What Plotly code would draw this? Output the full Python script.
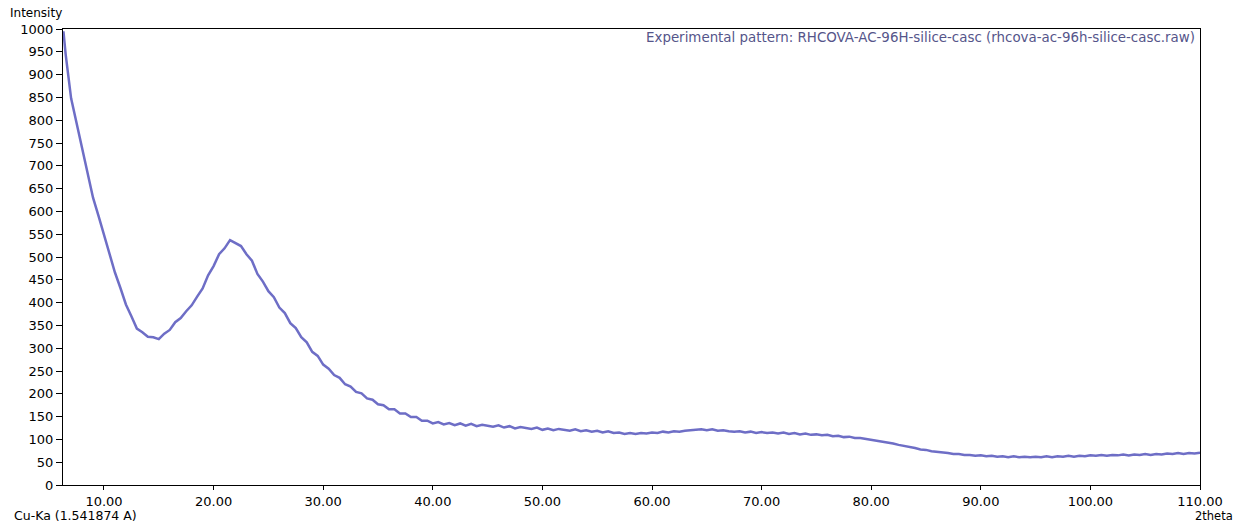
import plotly.graph_objects as go

# 2theta scan positions (degrees)
two_theta = [6.3, 6.5, 7.0, 7.5, 8.0, 8.5, 9.0, 9.5, 10.0, 10.5, 11.0, 11.5, 12.0, 12.5, 13.0, 13.5,
             14.0, 14.5, 15.0, 15.5, 16.0, 16.5, 17.0, 17.5, 18.0, 18.5, 19.0, 19.5, 20.0, 20.5, 21.0, 21.5,
             22.0, 22.5, 23.0, 23.5, 24.0, 24.5, 25.0, 25.5, 26.0, 26.5, 27.0, 27.5, 28.0, 28.5, 29.0, 29.5,
             30.0, 30.5, 31.0, 31.5, 32.0, 32.5, 33.0, 33.5, 34.0, 34.5, 35.0, 35.5, 36.0, 36.5, 37.0, 37.5,
             38.0, 38.5, 39.0, 39.5, 40.0, 40.5, 41.0, 41.5, 42.0, 42.5, 43.0, 43.5, 44.0, 44.5, 45.0, 45.5,
             46.0, 46.5, 47.0, 47.5, 48.0, 48.5, 49.0, 49.5, 50.0, 50.5, 51.0, 51.5, 52.0, 52.5, 53.0, 53.5,
             54.0, 54.5, 55.0, 55.5, 56.0, 56.5, 57.0, 57.5, 58.0, 58.5, 59.0, 59.5, 60.0, 60.5, 61.0, 61.5,
             62.0, 62.5, 63.0, 63.5, 64.0, 64.5, 65.0, 65.5, 66.0, 66.5, 67.0, 67.5, 68.0, 68.5, 69.0, 69.5,
             70.0, 70.5, 71.0, 71.5, 72.0, 72.5, 73.0, 73.5, 74.0, 74.5, 75.0, 75.5, 76.0, 76.5, 77.0, 77.5,
             78.0, 78.5, 79.0, 79.5, 80.0, 80.5, 81.0, 81.5, 82.0, 82.5, 83.0, 83.5, 84.0, 84.5, 85.0, 85.5,
             86.0, 86.5, 87.0, 87.5, 88.0, 88.5, 89.0, 89.5, 90.0, 90.5, 91.0, 91.5, 92.0, 92.5, 93.0, 93.5,
             94.0, 94.5, 95.0, 95.5, 96.0, 96.5, 97.0, 97.5, 98.0, 98.5, 99.0, 99.5, 100.0, 100.5, 101.0, 101.5,
             102.0, 102.5, 103.0, 103.5, 104.0, 104.5, 105.0, 105.5, 106.0, 106.5, 107.0, 107.5, 108.0, 108.5,
             109.0, 109.5, 110.0]

# Intensity (counts)
intensity = [995, 945, 848, 795, 741, 686, 630, 590, 548, 510, 466, 432, 396, 370, 343, 335,
             325, 324, 320, 332, 340, 357, 366, 381, 394, 413, 431, 460, 480, 506, 519, 537,
             531, 524, 506, 492, 463, 446, 425, 412, 389, 377, 355, 344, 324, 313, 292, 283,
             264, 255, 241, 235, 221, 216, 204, 201, 190, 187, 177, 175, 166, 166, 157, 157,
             149, 149, 141, 141, 135, 138, 133, 136, 131, 135, 130, 134, 129, 132, 130, 128,
             131, 126, 129, 124, 127, 125, 123, 126, 121, 124, 120, 123, 121, 119, 122, 118,
             120, 117, 119, 115, 118, 114, 115, 112, 114, 112, 114, 113, 115, 114, 117, 115,
             118, 117, 119, 120, 120, 122, 120, 122, 119, 120, 118, 117, 118, 115, 117, 114,
             116, 114, 115, 113, 115, 112, 114, 111, 113, 110, 111, 109, 110, 107, 108, 105,
             106, 103, 103, 101, 100, 98, 96, 93, 91, 88, 86, 83, 81, 78, 77, 74,
             73, 71, 70, 68, 68, 66, 66, 64, 65, 63, 64, 62, 63, 61, 63, 61,
             62, 61, 62, 61, 63, 61, 63, 62, 64, 62, 64, 63, 65, 64, 66, 64,
             66, 65, 67, 65, 67, 66, 68, 66, 68, 67, 69, 68, 70, 68,
             70, 69, 71]

x_ticks = [10, 20, 30, 40, 50, 60, 70, 80, 90, 100, 110]
y_ticks = list(range(0, 1001, 50))

legend_text = "Experimental pattern: RHCOVA-AC-96H-silice-casc (rhcova-ac-96h-silice-casc.raw)"

fig = go.Figure()
fig.add_trace(go.Scatter(
    x=two_theta, y=intensity, mode="lines",
    line=dict(color="#6e6ec6", width=2.5),
    showlegend=False,
))

font = "DejaVu Sans, Verdana, sans-serif"
fig.update_layout(
    width=1235, height=523,
    margin=dict(l=63, r=35, t=29, b=38),
    paper_bgcolor="white", plot_bgcolor="white",
    font=dict(family=font, size=13, color="black"),
    xaxis=dict(
        range=[6.26, 110], tickmode="array", tickvals=x_ticks,
        ticktext=[f"{v:.2f}" for v in x_ticks],
        showgrid=False, zeroline=False,
        showline=True, linecolor="black", linewidth=1, mirror=True,
        ticks="outside", ticklen=4, tickcolor="black",
        tickfont=dict(size=13),
    ),
    yaxis=dict(
        range=[0, 1000], tickmode="array", tickvals=y_ticks,
        showgrid=False, zeroline=False,
        showline=True, linecolor="black", linewidth=1, mirror=True,
        ticks="outside", ticklen=6, tickcolor="black",
        tickfont=dict(size=13),
    ),
    annotations=[
        dict(text="Intensity", xref="paper", yref="paper", x=0, y=1,
             xanchor="left", yanchor="middle", xshift=-54, yshift=16,
             borderpad=0, showarrow=False, font=dict(size=12)),
        dict(text=legend_text, xref="paper", yref="paper", x=1, y=1,
             xanchor="right", yanchor="top", xshift=-3, yshift=1,
             showarrow=False, font=dict(size=13.4, color="#55558a")),
        dict(text="Cu-Ka (1.541874 A)", xref="paper", yref="paper", x=0, y=0,
             xanchor="left", yanchor="middle", xshift=-50, yshift=-30,
             borderpad=0, showarrow=False, font=dict(size=12.5)),
        dict(text="2theta", xref="paper", yref="paper", x=1, y=0,
             xanchor="right", yanchor="middle", xshift=34, yshift=-31,
             borderpad=0, showarrow=False, font=dict(size=11.5)),
    ],
)

fig.write_html("out.html")
